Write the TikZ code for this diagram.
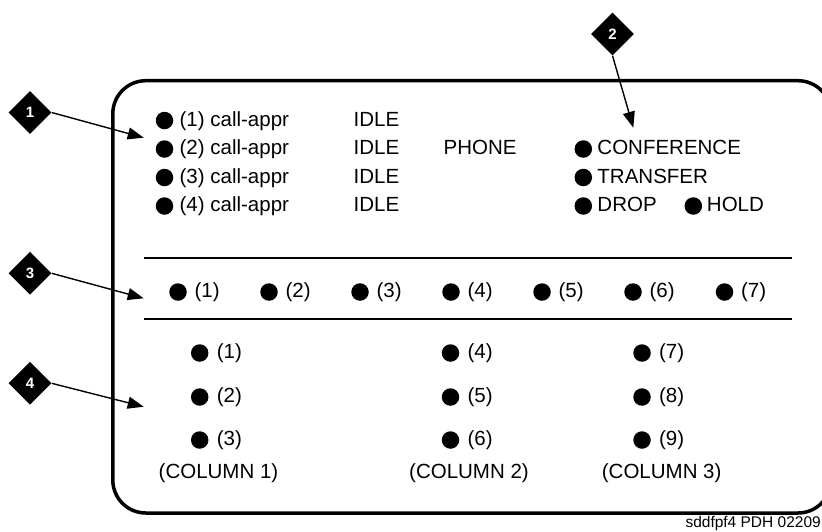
\documentclass[tikz,border=0pt]{standalone}
\usepackage{fontspec}
\setmainfont{Liberation Sans}
\usetikzlibrary{positioning,shapes.geometric,arrows.meta}

\begin{document}
\begin{tikzpicture}[x=1pt,y=-1pt,
    every node/.style={font=\fontsize{20.5}{24}\selectfont},
    dot/.style={circle,fill,inner sep=0pt,minimum size=17.5pt},
    lbl/.style={inner sep=0pt,text height=15pt,text depth=4pt,anchor=west},
    callout/.style={diamond,fill,inner sep=0pt,minimum width=43pt,minimum height=43pt,
                    text=white,font=\fontsize{15}{17}\selectfont\bfseries},
    pointer/.style={line width=1.4pt,-{Triangle[length=16pt,width=12pt]}},
    sep/.style={line width=1.4pt}]

  \useasboundingbox (0,0) rectangle (822,531);
  \clip (0,0) rectangle (822,531);

  % frame of the display
  \draw[line width=3.5pt,rounded corners=33pt] (112.8,80.7) rectangle (831,513);
  \draw[sep] (144,258) -- (792,258);
  \draw[sep] (144,319) -- (792,319);

  % call appearances
  \node[dot] (a1) at (164.5,120.5) {};
  \node[lbl,right=6pt of a1] (ta1) {(1) call-appr};
  \node[dot] (a2) at (164.5,149) {};
  \node[lbl,right=6pt of a2] (ta2) {(2) call-appr};
  \node[dot] (a3) at (164.5,177.5) {};
  \node[lbl,right=6pt of a3] (ta3) {(3) call-appr};
  \node[dot] (a4) at (164.5,206) {};
  \node[lbl,right=6pt of a4] (ta4) {(4) call-appr};
  \node[lbl] (i1) at (353.5,120.5) {IDLE};
  \node[lbl] (i2) at (353.5,149) {IDLE};
  \node[lbl] (i3) at (353.5,177.5) {IDLE};
  \node[lbl] (i4) at (353.5,206) {IDLE};
  \node[lbl] (ph) at (443.5,149) {PHONE};

  % fixed feature buttons
  \node[dot] (k1) at (583.3,149) {};
  \node[lbl,right=5pt of k1] (tk1) {CONFERENCE};
  \node[dot] (k2) at (583.3,177.5) {};
  \node[lbl,right=5pt of k2] (tk2) {TRANSFER};
  \node[dot] (k3) at (583.3,206) {};
  \node[lbl,right=5pt of k3] (tk3) {DROP};
  \node[dot] (k4) at (693.3,206) {};
  \node[lbl,right=4.5pt of k4] (tk4) {HOLD};

  % softkeys
  \node[dot] (s1) at (178,292) {};
  \node[lbl,right=7.5pt of s1] (ts1) {(1)};
  \node[dot] (s2) at (269,292) {};
  \node[lbl,right=7.5pt of s2] (ts2) {(2)};
  \node[dot] (s3) at (360,292) {};
  \node[lbl,right=7.5pt of s3] (ts3) {(3)};
  \node[dot] (s4) at (451,292) {};
  \node[lbl,right=7.5pt of s4] (ts4) {(4)};
  \node[dot] (s5) at (542,292) {};
  \node[lbl,right=7.5pt of s5] (ts5) {(5)};
  \node[dot] (s6) at (633,292) {};
  \node[lbl,right=7.5pt of s6] (ts6) {(6)};
  \node[dot] (s7) at (724.5,292) {};
  \node[lbl,right=7.5pt of s7] (ts7) {(7)};

  % feature buttons in three columns
  \node[dot] (f1) at (199.7,353) {};
  \node[lbl,right=8pt of f1] (tf1) {(1)};
  \node[dot] (f2) at (199.7,397) {};
  \node[lbl,right=8pt of f2] (tf2) {(2)};
  \node[dot] (f3) at (199.7,440) {};
  \node[lbl,right=8pt of f3] (tf3) {(3)};
  \node[dot] (f4) at (450.5,353) {};
  \node[lbl,right=8pt of f4] (tf4) {(4)};
  \node[dot] (f5) at (450.5,397) {};
  \node[lbl,right=8pt of f5] (tf5) {(5)};
  \node[dot] (f6) at (450.5,440) {};
  \node[lbl,right=8pt of f6] (tf6) {(6)};
  \node[dot] (f7) at (642,353) {};
  \node[lbl,right=8pt of f7] (tf7) {(7)};
  \node[dot] (f8) at (642,397) {};
  \node[lbl,right=8pt of f8] (tf8) {(8)};
  \node[dot] (f9) at (642,440) {};
  \node[lbl,right=8pt of f9] (tf9) {(9)};
  \node[lbl,anchor=center] (col1) at (218.5,473) {(COLUMN 1)};
  \node[lbl,anchor=center] (col2) at (469,473) {(COLUMN 2)};
  \node[lbl,anchor=center] (col3) at (661.7,473) {(COLUMN 3)};

  % callouts
  \node[callout] (c1) at (30,112.5) {1};
  \node[callout] (c2) at (612.5,34) {2};
  \node[callout] (c3) at (30,273.3) {3};
  \node[callout] (c4) at (30,383.3) {4};
  \coordinate (p1) at (143.7,137.7);
  \coordinate (p2) at (633.3,127.7);
  \coordinate (p3) at (143.7,298.3);
  \coordinate (p4) at (143.7,406.7);

  \path[pointer]
    (c1.east) edge (p1)
    (c2.south) edge (p2)
    (c3.east) edge (p3)
    (c4.east) edge (p4);

  \node[inner sep=0pt,anchor=base east,font=\fontsize{15.5}{18}\selectfont] (ft) at (821,527) {sddfpf4 PDH 02209};
\end{tikzpicture}
\end{document}
